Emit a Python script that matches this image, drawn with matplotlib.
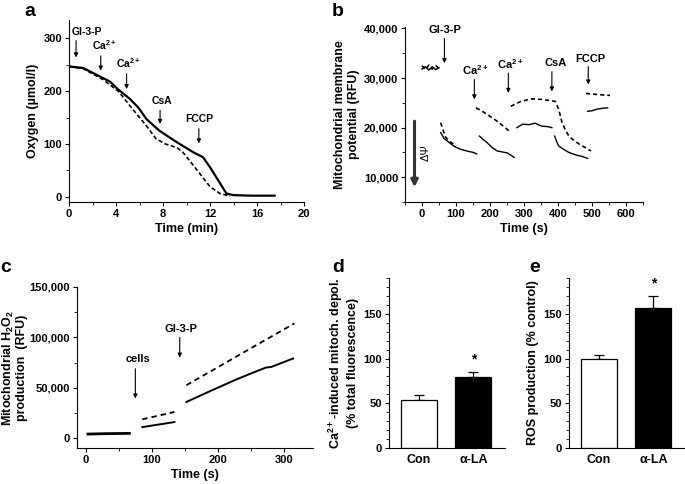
import matplotlib
matplotlib.use("Agg")
import matplotlib.pyplot as plt
import numpy as np
from matplotlib.ticker import MultipleLocator, FuncFormatter

plt.rcParams['font.family'] = ['Liberation Sans', 'DejaVu Sans']
plt.rcParams['font.weight'] = 'bold'
plt.rcParams['axes.labelweight'] = 'bold'
plt.rcParams['font.size'] = 7.5
plt.rcParams['mathtext.fontset'] = 'custom'
plt.rcParams['mathtext.rm'] = 'Liberation Sans:bold'
plt.rcParams['mathtext.bf'] = 'Liberation Sans:bold'
plt.rcParams['mathtext.default'] = 'bf'

# ---- panel a: oxygen consumption
a_t_solid = [0, 1.2, 2.9, 3.5, 4.2, 5.2, 5.9, 6.6, 7.7, 9.2, 10.6, 11.4, 12.0, 13.4, 14.0, 15.5, 17.5]
a_y_solid = [247, 244, 225, 218, 203, 185, 169, 147, 125, 103, 84, 75, 56, 6, 3, 2, 2]
a_t_dash = [0, 1.2, 2.9, 4.2, 5.2, 6.6, 7.4, 8.2, 9.2, 9.7, 10.6, 12.0, 12.85, 13.7]
a_y_dash = [247, 243, 222, 200, 172, 134, 110, 100, 93, 84, 59, 19, 6, 1]
a_labels = ['Gl-3-P', 'Ca$^{2+}$', 'Ca$^{2+}$', 'CsA', 'FCCP']
a_arrow_x = [0.6, 2.7, 4.9, 7.75, 11.05]
a_arrow_top = [296, 267, 233, 164, 129]
a_arrow_bot = [264, 239, 204, 138, 101]
a_label_x = [1.5, 3.0, 5.05, 7.95, 11.1]
a_label_y = [303, 274, 240, 172, 138]

# ---- panel b: membrane potential
b_solid = [
    ([0, 10, 20, 30, 40, 50], [31800, 32300, 31600, 32300, 31700, 32100]),
    ([55, 65, 80, 95, 111, 131, 151, 161], [19000, 17800, 17000, 16200, 15700, 15300, 15000, 14700]),
    ([169, 180, 191, 206, 221, 236, 251, 271], [18300, 17600, 17000, 16000, 15300, 15100, 14900, 14000]),
    ([279, 296, 315, 332, 352, 370, 382], [20000, 20700, 20600, 20900, 20300, 20200, 20000]),
    ([390, 396, 402, 417, 432, 452, 470, 487], [18300, 17200, 16300, 15600, 15000, 14500, 14200, 13800]),
    ([487, 500, 513, 530, 546], [23300, 23400, 23700, 23900, 24000]),
]
b_dash = [
    ([0, 10, 20, 30, 40, 50], [32500, 31700, 32600, 31800, 32600, 31900]),
    ([55, 62, 70, 80, 92, 100], [21000, 19500, 18000, 17300, 16700, 16300]),
    ([159, 175, 191, 206, 221, 241, 262], [24000, 23400, 22700, 22000, 21300, 20200, 19000]),
    ([261, 276, 291, 322, 352, 392, 402, 412, 422, 432, 447, 462, 497],
     [24300, 24800, 25300, 25800, 25700, 25300, 23700, 21000, 19500, 18300, 17400, 16700, 15300]),
    ([482, 513, 553], [26900, 26700, 26500]),
]
b_labels = ['Gl-3-P', 'Ca$^{2+}$', 'Ca$^{2+}$', 'CsA', 'FCCP']
b_arrow_x = [66, 154, 254, 382, 489]
b_arrow_top = [38000, 29700, 31000, 31300, 32300]
b_arrow_bot = [33000, 25700, 27000, 27300, 28700]
b_label_x = [68, 156, 261, 392, 494]
b_label_y = [38600, 30300, 31500, 32000, 32800]

# ---- panel c: H2O2 production
c_solid = [
    ([3.5, 30, 66], [4300, 4700, 5000]),
    ([85.5, 134], [11200, 16200]),
    ([152, 190, 227, 250, 272, 280, 313], [36100, 47500, 58300, 64500, 70200, 70800, 79200]),
]
c_dash = [
    ([85.5, 134], [18900, 26200]),
    ([152, 315], [52700, 114000]),
]
c_labels = ['cells', 'Gl-3-P']
c_arrow_x = [75, 142]
c_arrow_top = [69000, 100000]
c_arrow_bot = [39500, 80000]
c_label_x = [79, 144]
c_label_y = [73500, 103500]

# ---- panels d, e: bar charts
groups = ['Con', 'α-LA']
d_mean = [54, 79]
d_err = [5, 6]
e_mean = [99, 156]
e_err = [5, 14]

fig = plt.figure(figsize=(6.85, 4.84), dpi=100)
W, H = 685.0, 484.0


def add_ax(l, r, t, b):
    return fig.add_axes([l / W, 1 - b / H, (r - l) / W, (b - t) / H])


def style(ax):
    ax.spines['top'].set_visible(False)
    ax.spines['right'].set_visible(False)
    ax.tick_params(which='major', direction='out', length=3, width=0.8, pad=2, labelsize=8)
    ax.tick_params(which='minor', direction='out', length=2, width=0.6)


def thousands(v, pos):
    return '{:,.0f}'.format(v)


def arrows(ax, xs, tops, bots, lxs, lys, labels, fs=7.5):
    for x, t, b, lx, ly, lab in zip(xs, tops, bots, lxs, lys, labels):
        ax.annotate('', xy=(x, b), xytext=(x, t),
                    arrowprops=dict(arrowstyle='-|>', color='black', lw=0.8,
                                    mutation_scale=6, shrinkA=0, shrinkB=0))
        ax.text(lx, ly, lab, ha='center', va='bottom', fontsize=fs, fontweight='bold')


# a
ax = add_ax(69, 304, 20, 202)
style(ax)
ax.plot(a_t_dash, a_y_dash, color='black', lw=1.2, ls=(0, (2.5, 1.5)))
ax.plot(a_t_solid, a_y_solid, color='black', lw=1.6)
arrows(ax, a_arrow_x, a_arrow_top, a_arrow_bot, a_label_x, a_label_y, a_labels)
ax.set_xlim(0, 20)
ax.set_ylim(-10, 335)
ax.set_xticks([0, 4, 8, 12, 16, 20])
ax.xaxis.set_minor_locator(MultipleLocator(2))
ax.set_yticks([0, 100, 200, 300])
ax.yaxis.set_minor_locator(MultipleLocator(50))
ax.set_xlabel('Time (min)', fontsize=9, labelpad=3)
ax.set_ylabel('Oxygen (µmol/l)', fontsize=9, labelpad=3)
fig.text(30 / W, 1 - 11 / H, 'a', fontsize=14, fontweight='bold', ha='center', va='center')

# b
ax = add_ax(405, 643, 27, 202)
style(ax)
for xs, ys in b_dash:
    ax.plot(xs, ys, color='black', lw=1.2, ls=(0, (2.5, 1.8)))
for xs, ys in b_solid:
    ax.plot(xs, ys, color='black', lw=1.0)
arrows(ax, b_arrow_x, b_arrow_top, b_arrow_bot, b_label_x, b_label_y, b_labels, fs=8)
ax.annotate('', xy=(-22, 8000), xytext=(-22, 21300),
            arrowprops=dict(arrowstyle='-|>', color='#333333', lw=2.2,
                            mutation_scale=10, shrinkA=0, shrinkB=0))
ax.text(12, 15000, 'ΔΨ', rotation=90, ha='center', va='center', fontsize=8, fontweight='normal')
ax.set_xlim(-50, 650)
ax.set_ylim(5000, 40300)
ax.set_xticks([0, 100, 200, 300, 400, 500, 600])
ax.xaxis.set_minor_locator(MultipleLocator(50))
ax.set_yticks([10000, 20000, 30000, 40000])
ax.yaxis.set_minor_locator(MultipleLocator(5000))
ax.yaxis.set_major_formatter(FuncFormatter(thousands))
ax.set_xlabel('Time (s)', fontsize=9, labelpad=3)
ax.set_ylabel('Mitochondrial membrane\npotential (RFU)', fontsize=9, labelpad=3)
fig.text(338 / W, 1 - 12 / H, 'b', fontsize=14, fontweight='bold', ha='center', va='center')

# c
ax = add_ax(77, 313, 287, 448)
style(ax)
for xs, ys in c_dash:
    ax.plot(xs, ys, color='black', lw=1.3, ls=(0, (3, 2.2)))
for i, (xs, ys) in enumerate(c_solid):
    ax.plot(xs, ys, color='black', lw=2.0 if i == 0 else 1.4)
arrows(ax, c_arrow_x, c_arrow_top, c_arrow_bot, c_label_x, c_label_y, c_labels, fs=8)
ax.set_xlim(-13, 343)
ax.set_ylim(-9500, 150000)
ax.set_xticks([0, 100, 200, 300])
ax.xaxis.set_minor_locator(MultipleLocator(50))
ax.set_yticks([0, 50000, 100000, 150000])
ax.yaxis.set_minor_locator(MultipleLocator(25000))
ax.yaxis.set_major_formatter(FuncFormatter(thousands))
ax.set_xlabel('Time (s)', fontsize=9, labelpad=3)
ax.set_ylabel('Mitochondrial H$_2$O$_2$\nproduction  (RFU)', fontsize=9, linespacing=1.0)
ax.yaxis.set_label_coords(-49 / 236, 0.5)
fig.text(6 / W, 1 - 267 / H, 'c', fontsize=14, fontweight='bold', ha='center', va='center')


def bars(ax, means, errs, ylabel):
    style(ax)
    x = np.arange(len(groups))
    ax.bar(x, means, width=0.66, color=['white', 'black'], edgecolor='black', lw=0.9, zorder=2)
    ax.errorbar(x, means, yerr=[[0, 0], errs], fmt='none', ecolor='black',
                elinewidth=0.9, capsize=3.5, capthick=0.9, zorder=1)
    ax.set_xlim(-0.55, 1.58)
    ax.set_ylim(0, 190)
    ax.set_xticks(x)
    ax.set_xticklabels(groups, fontsize=9)
    ax.tick_params(axis='x', length=0, pad=4)
    ax.set_yticks([0, 50, 100, 150])
    ax.yaxis.set_minor_locator(MultipleLocator(10))
    ax.set_ylabel(ylabel, fontsize=9, labelpad=3)
    ax.text(1, means[1] + errs[1] + 14, '*', ha='center', va='center', fontsize=10)


# d
ax = add_ax(389, 505, 278, 448)
bars(ax, d_mean, d_err, 'Ca$^{2+}$-induced mitoch. depol.\n(% total fluorescence)')
fig.text(338 / W, 1 - 267 / H, 'd', fontsize=14, fontweight='bold', ha='center', va='center')

# e
ax = add_ax(569, 685, 278, 448)
bars(ax, e_mean, e_err, 'ROS production (% control)')
fig.text(535 / W, 1 - 267 / H, 'e', fontsize=14, fontweight='bold', ha='center', va='center')

fig.savefig('out.png', dpi=100)
